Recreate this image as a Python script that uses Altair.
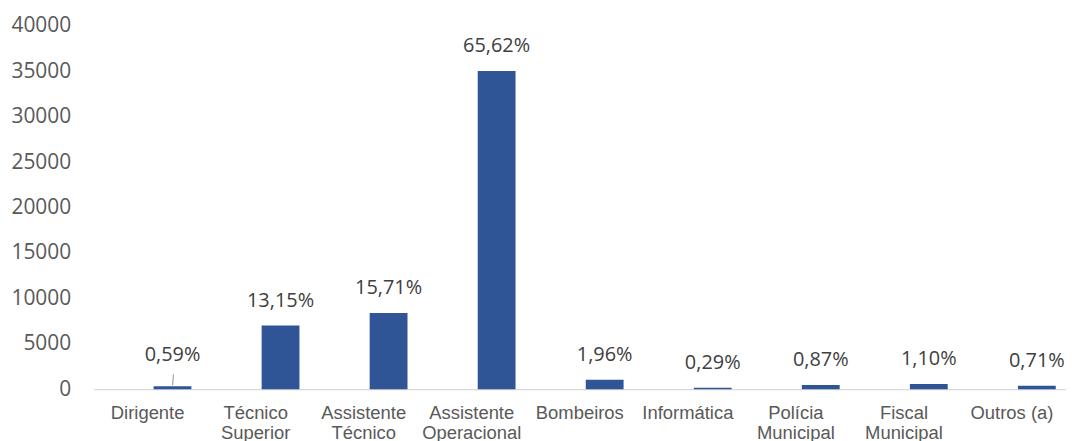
import altair as alt
import pandas as pd

categories = ["Dirigente", "Técnico Superior", "Assistente Técnico", "Assistente Operacional",
              "Bombeiros", "Informática", "Polícia Municipal", "Fiscal Municipal", "Outros (a)"]
values = [315, 7022, 8389, 35041, 1047, 155, 465, 587, 379]
labels = ["0,59%", "13,15%", "15,71%", "65,62%", "1,96%", "0,29%", "0,87%", "1,10%", "0,71%"]
y_ticks = [0, 5000, 10000, 15000, 20000, 25000, 30000, 35000, 40000]

df = pd.DataFrame({"cat": categories, "val": values, "lab": labels})

xs = alt.Scale(paddingInner=0, paddingOuter=0)
x_enc = alt.X("cat:N", sort=categories, scale=xs,
              axis=alt.Axis(title=None, labelAngle=0, ticks=False, domainColor="#D9D9D9",
                            domainWidth=1.3, labelColor="#595959", labelFont="Liberation Sans",
                            labelFontSize=18.5, labelPadding=14, labelLineHeight=21,
                            labelExpr="datum.value == 'Outros (a)' ? datum.value : split(datum.value, ' ')"))
y_enc = alt.Y("val:Q", scale=alt.Scale(domain=[0, 40000], nice=False),
              axis=alt.Axis(title=None, values=y_ticks, format="d", grid=False, domain=False,
                            ticks=False, labelColor="#595959", labelFont="Open Sans",
                            labelFontSize=21, labelPadding=23))

BAR_SHIFT = 25

base = alt.Chart(df)
bars = base.mark_bar(color="#2F5597", width=38, xOffset=BAR_SHIFT).encode(x=x_enc, y=y_enc)
txt = base.transform_filter(alt.datum.cat != "Dirigente").mark_text(
    font="Open Sans", fontSize=20, color="#404040", baseline="alphabetic", dy=-19, dx=BAR_SHIFT
).encode(x=alt.X("cat:N", sort=categories, scale=xs), y="val:Q", text="lab:N")
txt_d = base.transform_filter(alt.datum.cat == "Dirigente").mark_text(
    font="Open Sans", fontSize=20, color="#404040", baseline="alphabetic", dy=-25, dx=BAR_SHIFT
).encode(x=alt.X("cat:N", sort=categories, scale=xs), y="val:Q", text="lab:N")
leader = base.transform_filter(alt.datum.cat == "Dirigente").mark_rule(
    color="#A6A6A6", strokeWidth=1.2, xOffset=BAR_SHIFT, x2Offset=BAR_SHIFT + 1,
    yOffset=-1, y2Offset=-12
).encode(x=alt.X("cat:N", sort=categories, scale=xs), x2=alt.X2("cat:N"),
         y="val:Q", y2="val:Q")

chart = alt.layer(bars, leader, txt, txt_d).properties(
    width=977, height=365,
    autosize=alt.AutoSizeParams(type="none"),
    padding={"left": 86, "top": 17, "right": 0, "bottom": 51},
).configure(background="white", view=alt.ViewConfig(stroke=None))

chart.save("out.html", embed_options={"renderer": "svg", "actions": False})
